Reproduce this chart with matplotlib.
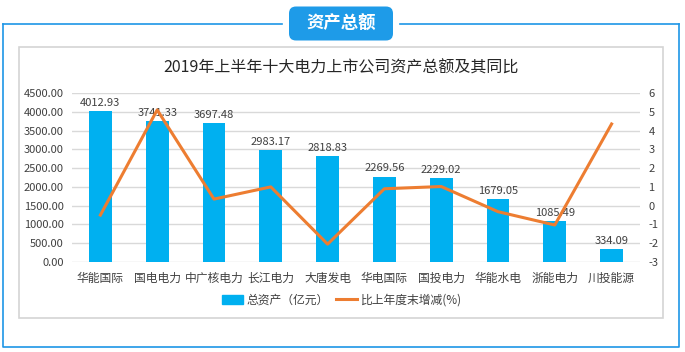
import matplotlib
matplotlib.use('Agg')
import matplotlib.pyplot as plt
from matplotlib.patches import Rectangle, FancyBboxPatch
from matplotlib.lines import Line2D
import numpy as np

plt.rcParams['font.family'] = ['Noto Sans CJK SC', 'DejaVu Sans']
plt.rcParams['axes.unicode_minus'] = False

# data
companies = ['华能国际', '国电电力', '中广核电力', '长江电力', '大唐发电',
             '华电国际', '国投电力', '华能水电', '浙能电力', '川投能源']
assets = [4012.93, 3741.33, 3697.48, 2983.17, 2818.83,
          2269.56, 2229.02, 1679.05, 1085.49, 334.09]
growth = [-0.5, 5.1, 0.35, 1.0, -2.05, 0.9, 1.02, -0.32, -1.03, 4.35]

W, H = 685, 352
fig = plt.figure(figsize=(W / 100, H / 100), dpi=100)

# background layer in pixel coords
bg = fig.add_axes([0, 0, 1, 1], zorder=-1)
bg.set_xlim(0, W)
bg.set_ylim(H, 0)
bg.axis('off')
blue = '#1E96E6'
# outer frame with gap for badge
bg.plot([3.5, 282], [24, 24], color=blue, lw=1.2)
bg.plot([400, 679], [24, 24], color=blue, lw=1.2)
bg.plot([3.5, 3.5, 679, 679], [24, 347, 347, 24], color=blue, lw=1.2)
# inner panel
bg.add_patch(Rectangle((19.5, 47), 643.5, 271, fill=False, ec='#D4D4D4', lw=1.2))
# badge
bg.add_patch(FancyBboxPatch((289, 6.5), 104, 34, boxstyle='round,pad=0,rounding_size=7',
                            fc='#1E9BE8', ec='none'))
bg.text(341, 23.5, '资产总额', color='white', fontsize=12.5, fontweight='bold',
        ha='center', va='center')
# title
bg.text(341, 68, '2019年上半年十大电力上市公司资产总额及其同比', fontsize=11.5,
        ha='center', va='center', color='#262626')

# main chart
x0, x1, ytop, ybot = 72, 640, 93, 262
ax = fig.add_axes([x0 / W, 1 - ybot / H, (x1 - x0) / W, (ybot - ytop) / H])
ax.patch.set_alpha(0)
x = np.arange(len(companies))
ax.bar(x, assets, width=0.4, color='#00B0F0', zorder=2)
for xi, v in zip(x, assets):
    ax.text(xi, v + 90, f'{v:.2f}', ha='center', va='bottom', fontsize=8, color='#404040')
ax.set_ylim(0, 4500)
ax.set_yticks(np.arange(0, 4501, 500))
ax.set_yticklabels([f'{v:.2f}' for v in np.arange(0, 4501, 500)])
ax.set_xlim(-0.5, len(companies) - 0.5)
ax.set_xticks(x)
ax.set_xticklabels(companies)
ax.yaxis.grid(True, color='#D9D9D9', lw=1, zorder=0)
ax.set_axisbelow(True)
for s in ax.spines.values():
    s.set_visible(False)
ax.tick_params(axis='both', length=0, labelsize=8, colors='#404040', pad=6)
ax.tick_params(axis='x', labelsize=8.5, pad=7)

ax2 = ax.twinx()
ax2.plot(x, growth, color='#ED7D31', lw=2.2, zorder=3)
ax2.set_ylim(-3, 6)
ax2.set_yticks(range(-3, 7))
for s in ax2.spines.values():
    s.set_visible(False)
ax2.tick_params(axis='y', length=0, labelsize=8, colors='#404040', pad=6)

# legend
handles = [Rectangle((0, 0), 1, 1, color='#00B0F0'),
           Line2D([0], [0], color='#ED7D31', lw=2.2)]
fig.legend(handles, ['总资产（亿元）', '比上年度末增减(%)'], loc='center',
           bbox_to_anchor=(342 / W, 1 - 300 / H), ncol=2, frameon=False,
           fontsize=8.5, handlelength=1.8, handleheight=0.8, columnspacing=0.6,
           handletextpad=0.3, labelcolor='#404040')

fig.savefig('out.png', dpi=100)
